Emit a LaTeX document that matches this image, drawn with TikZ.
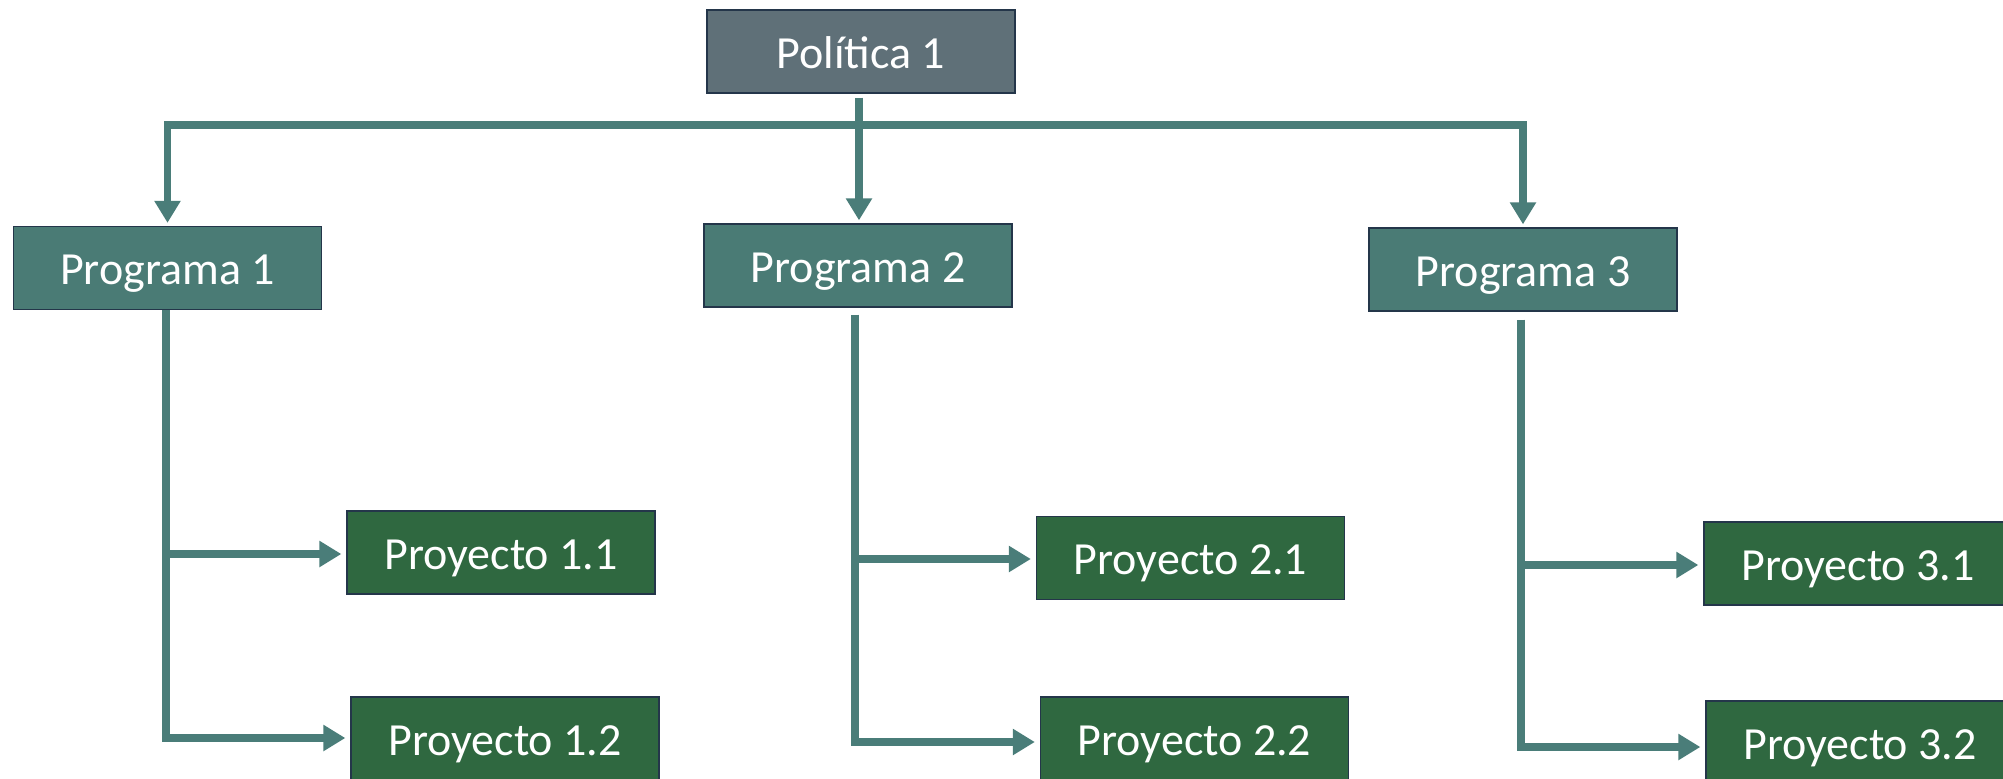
\documentclass[tikz,border=0pt]{standalone}
\usepackage{fontspec}
\setmainfont{Carlito}
\usetikzlibrary{arrows.meta}
\definecolor{polfill}{HTML}{5F7078}
\definecolor{progfill}{HTML}{4A7B75}
\definecolor{projfill}{HTML}{2F6840}
\definecolor{edge}{HTML}{24364A}
\definecolor{linkcol}{HTML}{4A7D79}
\begin{document}
\begin{tikzpicture}[x=1pt,y=-1pt,
  box/.style={draw=edge,line width=1.3pt,text=white,inner sep=0pt,
    minimum width=308pt,minimum height=83pt,
    text height=33pt,text depth=0pt,
    font=\fontsize{46}{55}\selectfont},
  polbox/.style={box,fill=polfill},
  progbox/.style={box,fill=progfill},
  projbox/.style={box,fill=projfill},
  link/.style={draw=linkcol,line width=7.5pt},
  conn/.style={link,-{Triangle[length=22pt,width=25pt]}}
]
\clip (0,0) rectangle (2003,779);

% boxes
\node[polbox]  (pol)   at (861,51.5)   {Política 1};
\node[progbox] (prog1) at (167.5,268)  {Programa 1};
\node[progbox] (prog2) at (858,265.5)  {Programa 2};
\node[progbox] (prog3) at (1523,269.5) {Programa 3};
\node[projbox] (p11) at (501,552.5)    {Proyecto 1.1};
\node[projbox] (p12) at (505,738.5)    {Proyecto 1.2};
\node[projbox] (p21) at (1190.5,558)   {Proyecto 2.1};
\node[projbox] (p22) at (1194.5,738.5) {Proyecto 2.2};
\node[projbox] (p31) at (1858,563.5)   {Proyecto 3.1};
\node[projbox] (p32) at (1860,742.5)   {Proyecto 3.2};

% distribution bar under the policy
\coordinate (bar) at (859,125);
\draw[link,line cap=rect] (prog1.north |- bar) -- (prog3.north |- bar);
\draw[conn,shorten <=4pt,shorten >=3pt] (pol.south -| bar) -- (prog2.north -| bar);
\draw[conn,shorten >=3pt] (prog1.north |- bar) -- (prog1.north);
\draw[conn,shorten >=3pt] (prog3.north |- bar) -- (prog3.north);

% branch points on the program stems
\coordinate (j11) at (166,554);
\coordinate (j12) at (166,738);
\coordinate (j21) at (855,559);
\coordinate (j22) at (855,742);
\coordinate (j31) at (1521,565);
\coordinate (j32) at (1521,747);

% program 1 to its projects
\draw[conn,shorten >=5pt] (prog1.south -| j12) -- (j12) -- (j12 -| p12.west);
\draw[conn,shorten >=5pt] (j11) -- (j11 -| p11.west);

% program 2 to its projects
\draw[conn,shorten <=7pt,shorten >=5pt] (prog2.south -| j22) -- (j22) -- (j22 -| p22.west);
\draw[conn,shorten >=5pt] (j21) -- (j21 -| p21.west);

% program 3 to its projects
\draw[conn,shorten <=8pt,shorten >=5pt] (prog3.south -| j32) -- (j32) -- (j32 -| p32.west);
\draw[conn,shorten >=5pt] (j31) -- (j31 -| p31.west);
\end{tikzpicture}
\end{document}
